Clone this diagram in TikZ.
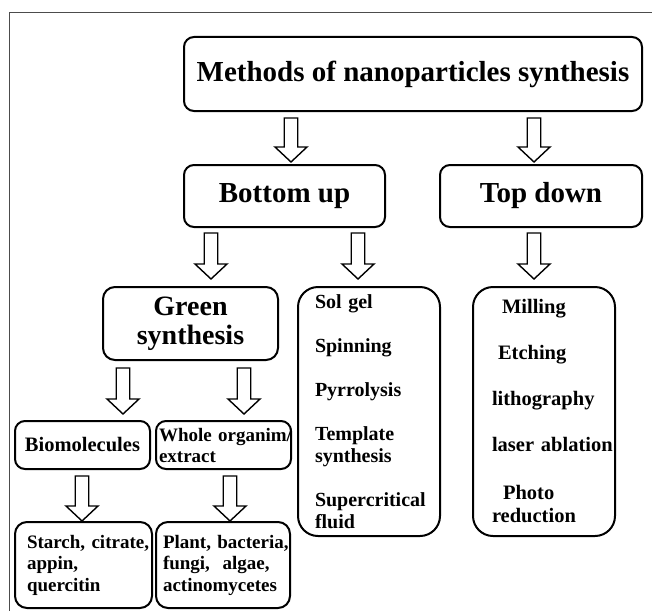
\documentclass[tikz,border=0pt]{standalone}
\usepackage{fontspec}
\setmainfont{Liberation Serif}
\usetikzlibrary{calc}
\hyphenpenalty=10000
\exhyphenpenalty=10000

\begin{document}
\begin{tikzpicture}[x=1pt, y=-1pt,
  box/.style={draw, line width=2pt, rounded corners=10pt, inner sep=0pt},
  bigfont/.style={font=\fontsize{29}{32}\selectfont\bfseries},
  smallfont/.style={font=\fontsize{19}{21.5}\selectfont\bfseries},
  listbox/.style={box, align=left, rounded corners=20pt,
                  minimum width=142pt, minimum height=249pt},
  blockarrow/.style={draw, fill=white, line width=1.4pt, line join=miter,
    to path={let \p1=(\tikztostart), \p2=(\tikztotarget) in
      ({\x2-6.75pt},\y1) -- ({\x2+6.75pt},\y1) -- ({\x2+6.75pt},{\y2+15pt})
      -- ({\x2+16pt},{\y2+15pt}) -- (\x2,\y2) -- ({\x2-16pt},{\y2+15pt})
      -- ({\x2-6.75pt},{\y2+15pt}) -- cycle}},
]
  \useasboundingbox (0,0) rectangle (652,610);

  % Frame
  \draw[gray!60!black, line width=1pt] (9.5,620) -- (9.5,13) -- (660,13);

  % Top node
  \node[box, bigfont, minimum width=458pt, minimum height=74pt] (methods)
    at (413,74) {Methods of nanoparticles synthesis};

  % Second row
  \node[box, bigfont, minimum width=201pt, minimum height=62pt] (bottomup)
    at (284.5,196) {Bottom up};
  \node[box, bigfont, minimum width=202pt, minimum height=62pt] (topdown)
    at (541,196) {Top down};

  % Third row
  \node[box, font=\fontsize{28}{29}\selectfont\bfseries, align=center,
        rounded corners=12pt, minimum width=175pt, minimum height=73pt] (green)
    at (190.5,323.5) {Green\\synthesis};
  \node[listbox, font=\fontsize{20}{22}\selectfont\bfseries,
        text width=108pt, inner xsep=17pt] (solgel) at (369,411.5)
    {Sol~gel\\[22pt]Spinning\\[22pt]Pyrrolysis\\[22pt]Template\\synthesis\\[22pt]Supercritical\\fluid};
  \node[listbox, font=\fontsize{20.5}{23}\selectfont\bfseries,
        text width=104pt, inner xsep=19pt] (milling) at (544,411.5)
    {\hspace*{10pt}Milling\\[23pt]\hspace*{6pt}Etching\\[23pt]lithography\\[23pt]laser~ablation\\[25pt]\hspace*{11pt}Photo\\reduction};

  % Fourth row
  \node[box, font=\fontsize{20.5}{22}\selectfont\bfseries,
        minimum width=135pt, minimum height=48pt] (biomol)
    at (82.5,445) {Biomolecules};
  \node[box, font=\fontsize{19}{21}\selectfont\bfseries, align=left,
        minimum width=135pt, minimum height=48pt, text width=129pt,
        inner xsep=3pt] (whole)
    at (223.5,445) {Whole~organim/\\extract};

  % Bottom row
  \node[box, smallfont, align=left, rounded corners=12pt,
        minimum width=137pt, minimum height=86pt, text width=113pt,
        inner xsep=12pt] (starch)
    at (83.5,565) {Starch,~citrate,\\appin,\\quercitin};
  \node[box, smallfont, align=left, rounded corners=12pt,
        minimum width=134pt, minimum height=86pt, text width=120pt,
        inner xsep=7pt] (plant)
    at (223,565) {Plant,~bacteria,\\fungi,~~algae,\\actinomycetes};

  % Arrows
  \draw[blockarrow] ([yshift=-6pt]methods.south) to ([xshift=6.5pt,yshift=2pt]bottomup.north);
  \draw[blockarrow] ([yshift=-6pt]methods.south) to ([xshift=-7pt,yshift=2pt]topdown.north);
  \draw[blockarrow] ([yshift=-5pt]bottomup.south) to ([xshift=20.5pt,yshift=7pt]green.north);
  \draw[blockarrow] ([yshift=-5pt]bottomup.south) to ([xshift=-11pt,yshift=7pt]solgel.north);
  \draw[blockarrow] ([yshift=-5pt]topdown.south) to ([xshift=-10pt,yshift=7pt]milling.north);
  \draw[blockarrow] ([yshift=-7pt]green.south) to ([xshift=40.5pt,yshift=6pt]biomol.north);
  \draw[blockarrow] ([yshift=-7pt]green.south) to ([xshift=20.5pt,yshift=6pt]whole.north);
  \draw[blockarrow] ([yshift=-6pt]biomol.south) to ([xshift=-1.5pt]starch.north);
  \draw[blockarrow] ([yshift=-6pt]whole.south) to ([xshift=7pt]plant.north);
\end{tikzpicture}
\end{document}
